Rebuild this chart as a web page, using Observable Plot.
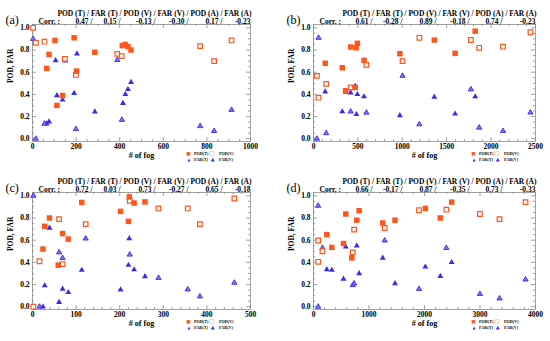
<!DOCTYPE html>
<html><head><meta charset="utf-8">
<script src="https://cdn.jsdelivr.net/npm/d3@7"></script>
<script src="https://cdn.jsdelivr.net/npm/@observablehq/plot@0.6"></script>
<style>
body{margin:0;background:#fff;}
#wrap{position:relative;width:550px;height:341px;background:#fff;overflow:hidden}
</style></head><body><div id="wrap"></div>
<script>
// ---- text ----
const panelLabels = ["(a)", "(b)", "(c)", "(d)"];
const headerText = "POD (T) / FAR (T) / POD (V) / FAR (V) / POD (A) / FAR (A)";
const corrLabel = "Corr. :";
const xTitle = "# of fog";
const yTitle = "POD, FAR";
const legendNames = ["POD(T)", "POD(V)", "FAR(T)", "FAR(V)"];

// ---- correlations ----
const corrA = [0.47, 0.15, -0.13, -0.30, 0.17, -0.23];
const corrB = [0.61, -0.28, 0.89, -0.18, 0.74, -0.23];
const corrC = [0.72, 0.03, 0.73, -0.27, 0.65, -0.18];
const corrD = [0.66, -0.17, 0.87, -0.35, 0.73, -0.33];

// ---- axes ----
const yTicks = [0, 0.2, 0.4, 0.6, 0.8, 1.0];
const xTicksA = [0, 200, 400, 600, 800, 1000];
const xTicksB = [0, 500, 1000, 1500, 2000, 2500];
const xTicksC = [0, 100, 200, 300, 400, 500];
const xTicksD = [0, 1000, 2000, 3000, 4000];

// ---- panel (a) ----
const podT_a = [[65,0.634],[76,0.76],[103,0.886],[112,0.30],[138,0.39],[191,0.91],[202,0.61],[286,0.78],[412,0.84],[425,0.85],[438,0.83],[452,0.80]];
const podV_a = [[3,1.0],[15,0.865],[55,0.875],[149,0.72],[199,0.575],[389,0.765],[409,0.745],[769,0.835],[833,0.70],[913,0.886]];
const farT_a = [[65,0.135],[76,0.153],[106,0.705],[112,0.39],[138,0.35],[191,0.41],[204,0.766],[286,0.243],[415,0.32],[426,0.40],[438,0.445],[452,0.51]];
const farV_a = [[3,1.0],[3,0.90],[15,0.0],[55,0.135],[149,0.705],[199,0.087],[389,0.71],[410,0.17],[769,0.114],[833,0.07],[913,0.26]];

// ---- panel (b) ----
const podT_b = [[132,0.68],[324,0.64],[362,0.433],[418,0.827],[470,0.463],[480,0.82],[494,0.86],[569,0.707],[973,0.767],[1361,0.89],[1595,0.77],[1821,0.97]];
const podV_b = [[38,0.567],[57,0.37],[143,0.495],[418,0.463],[596,0.666],[1003,0.70],[1192,0.91],[1772,0.89],[1866,0.82],[2134,0.83],[2443,0.96]];
const farT_b = [[132,0.424],[324,0.245],[362,0.42],[418,0.415],[470,0.475],[483,0.22],[494,0.40],[569,0.38],[973,0.21],[1361,0.376],[1595,0.224],[1821,0.38]];
const farV_b = [[38,0.0],[57,0.91],[143,0.05],[418,0.245],[596,0.235],[1003,0.567],[1192,0.13],[1772,0.445],[1866,0.10],[2134,0.07],[2443,0.236]];

// ---- panel (c) ----
const podT_c = [[24,0.52],[28,0.725],[39,0.80],[59,0.375],[69,0.66],[82,0.61],[113,0.94],[202,0.86],[220,0.77],[222,0.99],[233,0.935],[258,0.945]];
const podV_c = [[2,0.0],[16,0.41],[61,0.79],[69,0.385],[122,0.745],[223,0.955],[289,0.886],[356,0.886],[384,0.745],[463,0.976]];
const farT_c = [[24,0.0],[28,0.19],[39,0.71],[61,0.04],[69,0.16],[82,0.13],[113,0.33],[202,0.153],[220,0.375],[222,0.615],[233,0.335],[258,0.273]];
const farV_c = [[2,1.0],[16,0.0],[61,0.49],[69,0.44],[122,0.615],[223,0.47],[289,0.26],[356,0.156],[384,0.093],[463,0.216]];

// ---- panel (d) ----
const podT_d = [[240,0.65],[330,0.535],[540,0.57],[582,0.836],[690,0.44],[780,0.78],[822,0.866],[1247,0.755],[1469,0.78],[2015,0.886],[2285,0.80],[2489,0.943]];
const podV_d = [[84,0.597],[84,0.405],[162,0.50],[708,0.49],[732,0.695],[1283,0.71],[1901,0.87],[2393,0.875],[2999,0.836],[3352,0.79],[3820,0.943]];
const farT_d = [[240,0.336],[330,0.33],[540,0.25],[582,0.54],[690,0.45],[780,0.55],[822,0.30],[1247,0.44],[1469,0.21],[2015,0.36],[2285,0.275],[2489,0.40]];
const farV_d = [[84,0.91],[84,0.0],[162,0.53],[708,0.195],[732,0.21],[1283,0.597],[1901,0.16],[2393,0.53],[2999,0.115],[3352,0.075],[3820,0.245]];

const ORANGE = "#ff561c";
const BLUE = "#3b2be8";
const GRAY = "#8a8a8a";
const SERIF = "'Liberation Serif', 'Times New Roman', serif";

function panel(cfg) {
  const {left, top, width, height, ml, mr, mt, mb, xTicks, xMinorStep, podT, podV, farT, farV, label, corr, offs} = cfg;
  const xMax = xTicks[xTicks.length - 1];
  const W = width - ml - mr, H = height - mt - mb;
  const yMinor = d3.range(0, 1.0001, 0.05).filter(v => !yTicks.some(m => Math.abs(m - v) < 1e-6));
  const xMinor = d3.range(0, xMax + 1e-9, xMinorStep).filter(v => !xTicks.includes(v));
  const t = (txt, o) => Plot.text([txt], {text: d => d, fontFamily: SERIF, fontWeight: "bold", ...o});
  const corrMarks = corr.map((c, i) =>
    t(c.toFixed(2) + (i < corr.length - 1 ? " /" : ""), {frameAnchor: "top-right", dx: offs[i], dy: -5.5, textAnchor: "end", fontSize: 7.5}));
  const node = Plot.plot({
    width, height, marginLeft: ml, marginRight: mr, marginTop: mt, marginBottom: mb,
    style: {fontFamily: SERIF, fontWeight: "bold", fontSize: "7.5px", background: "transparent", color: "#000", overflow: "visible"},
    x: {domain: [0, xMax], ticks: xTicks, tickFormat: d => String(d), tickSize: 0, tickPadding: 2.5, label: null},
    y: {domain: [-0.025, 1.03], ticks: yTicks, tickFormat: d => d.toFixed(1), tickSize: 0, tickPadding: 3, label: null},
    marks: [
      Plot.frame({stroke: GRAY, strokeWidth: 0.8}),
      // inward ticks
      Plot.tickX(xTicks, {x: d => d, insetTop: H - 4, stroke: GRAY, strokeWidth: 0.8}),
      Plot.tickX(xTicks, {x: d => d, insetBottom: H - 4, stroke: GRAY, strokeWidth: 0.8}),
      Plot.tickX(xMinor, {x: d => d, insetTop: H - 2, stroke: GRAY, strokeWidth: 0.8}),
      Plot.tickX(xMinor, {x: d => d, insetBottom: H - 2, stroke: GRAY, strokeWidth: 0.8}),
      Plot.tickY(yTicks, {y: d => d, insetRight: W - 4, stroke: GRAY, strokeWidth: 0.8}),
      Plot.tickY(yTicks, {y: d => d, insetLeft: W - 4, stroke: GRAY, strokeWidth: 0.8}),
      Plot.tickY(yMinor, {y: d => d, insetRight: W - 2, stroke: GRAY, strokeWidth: 0.8}),
      Plot.tickY(yMinor, {y: d => d, insetLeft: W - 2, stroke: GRAY, strokeWidth: 0.8}),
      // data
      Plot.dot(farT, {x: d => d[0], y: d => d[1], symbol: "triangle", fill: BLUE, r: 2.2}),
      Plot.dot(farV, {x: d => d[0], y: d => d[1], symbol: "triangle", fill: "#7f74ef", stroke: BLUE, strokeWidth: 0.9, r: 1.95}),
      Plot.dot(podV, {x: d => d[0], y: d => d[1], symbol: "square", fill: "white", stroke: ORANGE, strokeWidth: 1.2, r: 2.6}),
      Plot.dot(podT, {x: d => d[0], y: d => d[1], symbol: "square", fill: ORANGE, r: 3.1}),
      // titles
      t(label, {frameAnchor: "top-left", dx: -27, dy: -9, textAnchor: "start", fontSize: 12, fontWeight: "normal"}),
      t(headerText, {frameAnchor: "top-right", dx: 1, dy: -14, textAnchor: "end", fontSize: 7.5}),
      t(corrLabel, {frameAnchor: "top-left", dx: 6, dy: -5.5, textAnchor: "start", fontSize: 7.5}),
      ...corrMarks,
      t(xTitle, {frameAnchor: "bottom", dy: 16.5, fontSize: 8}),
      t(yTitle, {frameAnchor: "left", dx: -22, rotate: -90, fontSize: 7.5}),
      // legend
      Plot.text(["■"], {text: d => d, frameAnchor: "bottom-right", dx: -60, dy: 13.5, fill: ORANGE, fontSize: 4.5, fontFamily: "DejaVu Sans"}),
      t(legendNames[0], {frameAnchor: "bottom-right", dx: -56.5, dy: 13.5, textAnchor: "start", fontSize: 4.2}),
      Plot.text(["□"], {text: d => d, frameAnchor: "bottom-right", dx: -36, dy: 13.5, fill: ORANGE, fontSize: 5.5, fontWeight: "bold", fontFamily: "DejaVu Sans"}),
      t(legendNames[1], {frameAnchor: "bottom-right", dx: -31.5, dy: 13.5, textAnchor: "start", fontSize: 4.2}),
      Plot.text(["▲"], {text: d => d, frameAnchor: "bottom-right", dx: -60, dy: 19.5, fill: BLUE, fontSize: 3.8, fontFamily: "DejaVu Sans"}),
      t(legendNames[2], {frameAnchor: "bottom-right", dx: -56.5, dy: 19.5, textAnchor: "start", fontSize: 4.2}),
      Plot.text(["▲"], {text: d => d, frameAnchor: "bottom-right", dx: -36, dy: 19.5, fill: BLUE, fontSize: 5, fontFamily: "DejaVu Sans"}),
      t(legendNames[3], {frameAnchor: "bottom-right", dx: -31.5, dy: 19.5, textAnchor: "start", fontSize: 4.2})
    ]
  });
  node.style.position = "absolute";
  node.style.left = left + "px";
  node.style.top = top + "px";
  return node;
}

const offsLeft = [-158, -130, -95, -62, -28, 0];
const offsRight = [-163, -133, -99, -66, -33, 0];
const wrap = document.getElementById("wrap");
wrap.appendChild(panel({left: 0, top: 0, width: 275, height: 170, ml: 32, mr: 25, mt: 24, mb: 29, xTicks: xTicksA, xMinorStep: 50, podT: podT_a, podV: podV_a, farT: farT_a, farV: farV_a, label: panelLabels[0], corr: corrA, offs: offsLeft}));
wrap.appendChild(panel({left: 275, top: 0, width: 275, height: 170, ml: 38, mr: 15, mt: 24, mb: 29, xTicks: xTicksB, xMinorStep: 100, podT: podT_b, podV: podV_b, farT: farT_b, farV: farV_b, label: panelLabels[1], corr: corrB, offs: offsRight}));
wrap.appendChild(panel({left: 0, top: 170, width: 275, height: 171, ml: 32, mr: 25, mt: 22, mb: 32, xTicks: xTicksC, xMinorStep: 20, podT: podT_c, podV: podV_c, farT: farT_c, farV: farV_c, label: panelLabels[2], corr: corrC, offs: offsLeft}));
wrap.appendChild(panel({left: 275, top: 170, width: 275, height: 171, ml: 38, mr: 15, mt: 22, mb: 32, xTicks: xTicksD, xMinorStep: 200, podT: podT_d, podV: podV_d, farT: farT_d, farV: farV_d, label: panelLabels[3], corr: corrD, offs: offsRight}));
</script></body></html>
